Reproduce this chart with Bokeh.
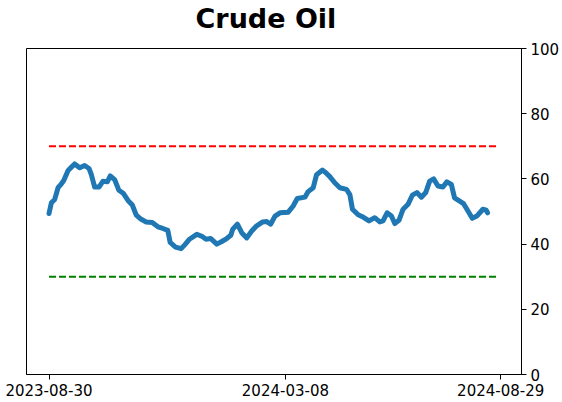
from bokeh.plotting import figure
from bokeh.models import Range1d, LinearAxis, FixedTicker, Title
from bokeh.embed import file_html
from bokeh.resources import INLINE

title = "Crude Oil"
# days since 2023-08-30
days = [0.0, 1.9, 4.6, 7.3, 10.0, 11.9, 15.4, 18.1, 20.7, 24.8, 28.8, 32.3, 34.2, 36.9,
        40.4, 43.6, 47.1, 49.5, 53.0, 56.5, 60.2, 63.8, 67.3, 70.5, 74.5, 78.5, 83.4, 88.0,
        92.0, 96.0, 97.9, 102.2, 106.8, 110.2, 113.5, 119.4, 123.5, 126.9, 130.7, 135.6,
        139.6, 143.6, 146.9, 148.5, 152.2, 155.7, 159.8, 163.8, 167.8, 172.7, 175.9, 179.1,
        182.6, 186.6, 193.3, 197.3, 200.6, 206.8, 209.4, 213.5, 216.2, 221.0, 223.7, 226.9,
        230.9, 235.0, 240.4, 243.1, 245.2, 249.8, 253.8, 258.6, 263.2, 267.3, 269.9, 273.2,
        276.7, 279.4, 282.8, 286.1, 290.1, 293.6, 297.3, 300.9, 304.4, 307.6, 310.8, 314.3,
        318.3, 321.5, 325.1, 327.7, 331.8, 335.0, 337.7, 342.0, 345.7, 350.6, 353.3, 354.4]
values = [49.4, 52.7, 53.7, 57.3, 58.5, 59.5, 62.6, 63.6, 64.6, 63.4, 64.1, 63.2, 61.3, 57.5,
          57.5, 59.3, 59.1, 60.9, 59.8, 56.5, 55.5, 53.4, 52.0, 48.9, 47.6, 46.8, 46.6, 45.3,
          44.8, 44.2, 40.5, 39.1, 38.6, 40.0, 41.5, 43.0, 42.4, 41.5, 41.7, 40.0,
          40.8, 41.7, 42.7, 44.6, 46.1, 43.5, 41.9, 44.0, 45.6, 46.8, 46.9, 46.1,
          48.6, 49.6, 49.8, 51.7, 54.0, 54.4, 56.1, 57.3, 61.3, 62.7, 61.9, 60.7,
          58.8, 57.3, 56.8, 55.2, 50.7, 49.0, 48.3, 47.1, 48.1, 46.8, 47.1, 49.6,
          48.6, 46.3, 47.3, 50.7, 52.2, 55.0, 55.8, 54.4, 55.8, 59.3, 60.0, 57.8,
          57.5, 59.1, 58.3, 54.2, 53.2, 52.4, 50.7, 47.9, 48.6, 50.7, 50.4, 49.6]
tick_days = [0, 191, 365]
tick_labels = ["2023-08-30", "2024-03-08", "2024-08-29"]
y_ticks = [0, 20, 40, 60, 80, 100]
upper_level = 70
lower_level = 30
level_span = [0, 363]

p = figure(width=562, height=398, output_backend="svg", toolbar_location=None,
           x_axis_type=None, y_axis_location=None,
           x_range=Range1d(-18.2, 381.8), y_range=Range1d(0, 100),
           min_border_left=26, min_border_right=0, min_border_top=0, min_border_bottom=0)
p.title.text = title
p.title.align = "left"
p.title.offset = 169
p.title.standoff = 0
p.title.text_font = "DejaVu Sans"
p.title.text_font_style = "bold"
p.title.text_font_size = "27px"
p.title.text_color = "black"
# spacer between the title and the plot frame
p.add_layout(Title(text=" ", text_font_size="1px", standoff=12), "above")
p.grid.visible = False
p.outline_line_color = "black"
p.outline_line_width = 1
p.outline_line_alpha = 1
p.background_fill_color = "white"
p.border_fill_color = "white"

xa = LinearAxis(ticker=FixedTicker(ticks=tick_days),
                major_label_overrides={d: l for d, l in zip(tick_days, tick_labels)})
ya = LinearAxis(ticker=FixedTicker(ticks=y_ticks))
for ax in (xa, ya):
    ax.major_label_text_font = "DejaVu Sans"
    ax.major_label_text_font_size = "15px"
    ax.major_label_text_color = "black"
    ax.major_tick_out = 5
    ax.major_tick_in = 0
    ax.minor_tick_line_color = None
    ax.axis_line_color = "black"
    ax.major_tick_line_color = "black"
xa.major_label_standoff = 4
ya.major_label_standoff = 4
p.add_layout(xa, "below")
p.add_layout(ya, "right")

p.line(level_span, [upper_level, upper_level], line_color="#ff0000", line_width=2, line_dash="7 3")
p.line(level_span, [lower_level, lower_level], line_color="#008000", line_width=2, line_dash="7 3")
p.line(days, values, line_color="#1f77b4", line_width=5, line_join="round", line_cap="round")

open("out.html", "w").write(file_html(p, INLINE))
